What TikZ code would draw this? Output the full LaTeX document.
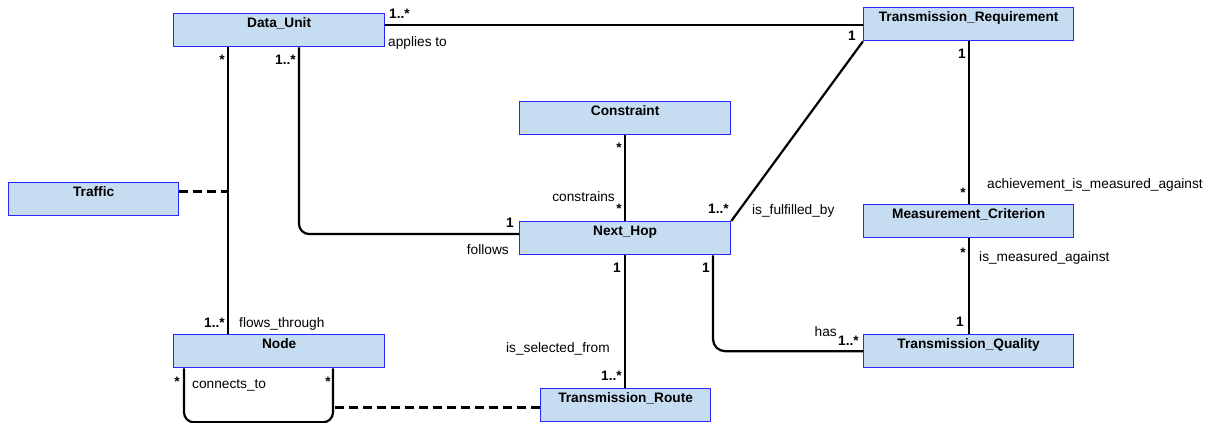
\documentclass[tikz,border=0pt]{standalone}
\usepackage{fontspec}
\setmainfont{Liberation Sans}
\usetikzlibrary{calc}
\definecolor{classfill}{RGB}{198,220,240}
\definecolor{classedge}{RGB}{40,40,250}

\begin{document}
\begin{tikzpicture}[x=1pt,y=-1pt,
  font=\fontsize{13.7}{16}\selectfont,
  cls/.style={draw=classedge, line width=1.3pt, fill=classfill, anchor=north west,
    minimum width=211pt, text height=10pt, text depth=16pt, inner ysep=3.5pt, inner xsep=0pt,
    font=\fontsize{13.7}{16}\selectfont\bfseries},
  assoc/.style={line width=2.2pt, black},
  dep/.style={line width=3pt, black, dash pattern=on 9pt off 5pt},
  mult/.style={inner sep=0pt, font=\fontsize{13.7}{16}\selectfont\bfseries},
  role/.style={inner sep=0pt},
]
\useasboundingbox (0,0) rectangle (1211,423);

% classes
\node[cls] (du) at (173,13) {Data\_Unit};
\node[cls, minimum width=170pt] (traffic) at (8,182) {Traffic};
\node[cls] (nd) at (173,334) {Node};
\node[cls] (con) at (519,101) {Constraint};
\node[cls] (nh) at (519,221) {Next\_Hop};
\node[cls, minimum width=210pt] (tr) at (863,7) {Transmission\_Requirement};
\node[cls, minimum width=210pt] (mc) at (863,204) {Measurement\_Criterion};
\node[cls, minimum width=210pt] (tq) at (863,334) {Transmission\_Quality};
\node[cls, minimum width=170pt] (rt) at (540,388) {Transmission\_Route};

% attachment points
\coordinate (apA) at ($(du.north east)+(0,12)$);
\coordinate (duL) at ($(du.south west)+(55,0)$);
\coordinate (duR) at ($(du.south west)+(126,0)$);
\coordinate (trf) at ($(traffic.north east)+(0,9)$);
\coordinate (nhR) at ($(nh.south west)+(194,0)$);
\coordinate (ndA) at ($(nd.south west)+(11,0)$);
\coordinate (ndB) at ($(nd.south west)+(160,0)$);
\coordinate (rtL) at ($(rt.north west)+(0,19)$);

% associations
\draw[assoc] (apA) -- (apA -| tr.west);
\draw[assoc] (duL) -- (duL |- nd.north);
\draw[assoc, rounded corners=10pt] (duR) |- ($(nh.north west)+(0,13)$);
\draw[assoc] (con.south) -- (nh.north);
\draw[assoc] (nh.north east) -- (tr.south west);
\draw[assoc] (tr.south) -- (mc.north);
\draw[assoc] (mc.south) -- (tq.north);
\draw[assoc] (nh.south) -- (nh.south |- rt.north);
\draw[assoc, rounded corners=12pt] (nhR) |- (tq.west);
\draw[assoc, rounded corners=10pt] (ndA) -- ($(ndA)+(0,54)$) -| (ndB);

% dependencies
\draw[dep] (trf) -- (trf -| duL);
\draw[dep] (rtL) -- (rtL -| ndB);

% multiplicities and role names
\node[mult, anchor=base west] (m1) at (389,19) {1..*};
\node[role, anchor=base west] (r1) at (388,46) {applies to};
\node[mult, anchor=base east] (m2) at (856,40) {1};
\node[mult, anchor=base east] (m3) at (225,64) {*};
\node[mult, anchor=base east] (m4) at (225,327) {1..*};
\node[role, anchor=base west] (r2) at (239,327) {flows\_through};
\node[mult, anchor=base east] (m5) at (296,64) {1..*};
\node[mult, anchor=base east] (m6) at (514,227) {1};
\node[role, anchor=base east] (r3) at (509,254) {follows};
\node[mult, anchor=base east] (m7) at (622,152) {*};
\node[role, anchor=base east] (r4) at (615,201) {constrains};
\node[mult, anchor=base east] (m8) at (622,213) {*};
\node[mult, anchor=base east] (m9) at (729,213) {1..*};
\node[role, anchor=base west] (r5) at (752,214) {is\_fulfilled\_by};
\node[mult, anchor=base east] (m10) at (966,58) {1};
\node[mult, anchor=base east] (m11) at (966,197) {*};
\node[role, anchor=base west] (r6) at (987,188) {achievement\_is\_measured\_against};
\node[mult, anchor=base east] (m12) at (966,257) {*};
\node[role, anchor=base west] (r7) at (979,261) {is\_measured\_against};
\node[mult, anchor=base east] (m13) at (964,326) {1};
\node[mult, anchor=base east] (m14) at (621,272) {1};
\node[role, anchor=base west] (r8) at (506,352) {is\_selected\_from};
\node[mult, anchor=base east] (m15) at (622,380) {1..*};
\node[mult, anchor=base east] (m16) at (710,272) {1};
\node[role, anchor=base east] (r9) at (837,336) {has};
\node[mult, anchor=base west] (m17) at (838,345) {1..*};
\node[mult, anchor=base east] (m18) at (180,386) {*};
\node[role, anchor=base west] (r10) at (192,388) {connects\_to};
\node[mult, anchor=base east] (m19) at (331,386) {*};
\end{tikzpicture}
\end{document}
